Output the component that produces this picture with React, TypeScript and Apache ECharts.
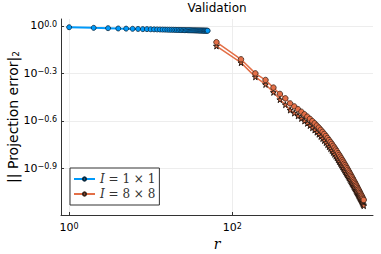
import React, { useEffect, useRef } from "react";
import * as echarts from "echarts";

// r values (ranks) of each series
const blueR = [
  1, 2, 3, 4, 5, 6, 7, 8, 9, 10, 11, 12, 13, 14, 15, 16, 17, 18, 19, 20, 21, 22, 23, 24, 25,
  26, 27, 28, 29, 30, 31, 32, 33, 34, 35, 36, 37, 38, 39, 40, 41, 42, 43, 44, 45, 46, 47, 48, 49, 50,
];
// log10 of the projection error, blue series (I = 1 x 1)
const blueLog10Err = [
  -0.008, -0.012, -0.014, -0.016, -0.017, -0.018, -0.019, -0.02, -0.02, -0.021, -0.0215, -0.022,
  -0.0225, -0.023, -0.0233, -0.0237, -0.024, -0.0243, -0.0246, -0.0249, -0.0252, -0.0254, -0.0257,
  -0.0259, -0.0262, -0.0264, -0.0266, -0.0268, -0.027, -0.0272, -0.0274, -0.0276, -0.0277, -0.0279,
  -0.0281, -0.0282, -0.0284, -0.0285, -0.0287, -0.0288, -0.029, -0.0291, -0.0292, -0.0294, -0.0295,
  -0.0296, -0.0297, -0.0299, -0.03, -0.0301,
];

const orangeR = [
  64, 128, 192, 256, 320, 384, 448, 512, 576, 640, 704, 768, 832, 896, 960, 1024, 1088, 1152, 1216,
  1280, 1344, 1408, 1472, 1536, 1600, 1664, 1728, 1792, 1856, 1920, 1984, 2048, 2112, 2176, 2240,
  2304, 2368, 2432, 2496, 2560, 2624, 2688, 2752, 2816, 2880, 2944, 3008, 3072, 3136, 3200, 3264,
  3328, 3392, 3456, 3520, 3584, 3648, 3712, 3776, 3840, 3904, 3968, 4032, 4096,
];
// log10 of the projection error, orange series with circles (I = 8 x 8)
const orangeCircleLog10Err = [
  -0.103, -0.211, -0.3, -0.342, -0.39, -0.43, -0.458, -0.49, -0.509, -0.527, -0.543, -0.559, -0.574,
  -0.588, -0.602, -0.616, -0.63, -0.643, -0.657, -0.67, -0.683, -0.696, -0.709, -0.722, -0.734,
  -0.746, -0.758, -0.77, -0.782, -0.793, -0.805, -0.816, -0.827, -0.838, -0.849, -0.859, -0.87,
  -0.88, -0.89, -0.9, -0.91, -0.92, -0.929, -0.939, -0.948, -0.957, -0.966, -0.975, -0.984, -0.992,
  -1.001, -1.009, -1.017, -1.026, -1.034, -1.041, -1.049, -1.057, -1.065, -1.072, -1.079, -1.087,
  -1.094, -1.101,
];
// log10 of the projection error, orange series with stars (unlabelled)
const orangeStarLog10Err = [
  -0.127, -0.232, -0.322, -0.37, -0.42, -0.466, -0.498, -0.532, -0.551, -0.569, -0.585, -0.601,
  -0.616, -0.63, -0.644, -0.658, -0.672, -0.685, -0.699, -0.712, -0.725, -0.738, -0.751, -0.764,
  -0.776, -0.788, -0.8, -0.812, -0.824, -0.835, -0.847, -0.858, -0.869, -0.88, -0.891, -0.901,
  -0.912, -0.922, -0.932, -0.942, -0.951, -0.961, -0.97, -0.979, -0.988, -0.997, -1.005, -1.014,
  -1.022, -1.03, -1.039, -1.047, -1.055, -1.063, -1.071, -1.078, -1.086, -1.093, -1.101, -1.108,
  -1.115, -1.123, -1.13, -1.137,
];

const xTickExps = [0, 2];
const xTickLabels = ["0", "2"];
const yTickExps = [0, -0.3, -0.6, -0.9];
const yTickLabels = ["0.0", "−0.3", "−0.6", "−0.9"];

const seriesNames = ["I = 1 × 1", "I = 8 × 8"];

const BLUE = "#009AFA";
const ORANGE = "#E36F47";
const STAR =
  "path://M50,0 L61,35 L98,35 L68,57 L79,91 L50,70 L21,91 L32,57 L2,35 L39,35 Z";

export default function App() {
  const ref = useRef<HTMLDivElement>(null);

  useEffect(() => {
    document.body.style.margin = "0";
    const chart = echarts.init(ref.current as HTMLDivElement, null, { renderer: "svg" });
    const pts = (rs: number[], es: number[]) => rs.map((r, i) => [Math.log10(r), es[i]]);
    const lab = (vals: number[], texts: string[]) => (v: number) => {
      const i = vals.findIndex((t) => Math.abs(t - v) < 1e-6);
      return i < 0 ? "" : `10{sup|${texts[i]}}`;
    };
    const sans = "DejaVu Sans";
    const serif = "DejaVu Serif";
    const labelRich = {
      sup: { fontSize: 8, fontFamily: sans, color: "#000", verticalAlign: "top", lineHeight: 8, padding: [0, 0, 5, 0] },
    };

    chart.setOption({
      animation: false,
      backgroundColor: "#fff",
      graphic: [
        {
          type: "text",
          x: 217,
          y: 2,
          style: { text: "Validation", align: "center", verticalAlign: "top", fontSize: 12, fontFamily: sans, fill: "#000" },
        },
      ],
      grid: { left: 61, top: 19, right: 8, bottom: 39, outerBoundsMode: "none" },
      legend: {
        data: seriesNames,
        orient: "vertical",
        left: 70,
        top: 168,
        itemWidth: 21,
        itemHeight: 4,
        itemGap: 3,
        padding: [5, 4, 5, 3],
        borderColor: "#333",
        borderWidth: 1,
        backgroundColor: "#fff",
        formatter: (n: string) => `{i|I}{t|${n.slice(1)}}`,
        textStyle: {
          color: "#333",
          fontSize: 12,
          fontFamily: serif,
          rich: {
            i: { fontStyle: "italic", fontFamily: serif, fontSize: 12, color: "#333" },
            t: { fontFamily: serif, fontSize: 12, color: "#333" },
          },
        },
      },
      xAxis: {
        type: "value",
        min: -0.1,
        max: 3.726,
        name: "r",
        nameLocation: "middle",
        nameGap: 22,
        nameMoveOverlap: false,
        nameTextStyle: { fontStyle: "italic", fontFamily: serif, fontSize: 14, color: "#000" },
        axisLine: { show: true, onZero: false, lineStyle: { color: "#333", width: 1 } },
        axisTick: { show: true, inside: true, length: 3, customValues: xTickExps, lineStyle: { color: "#333" } },
        axisLabel: {
          customValues: xTickExps,
          formatter: lab(xTickExps, xTickLabels),
          fontSize: 11,
          fontFamily: sans,
          color: "#000",
          margin: 7,
          rich: labelRich,
        },
        splitLine: { show: false },
      },
      yAxis: {
        type: "value",
        min: -1.196,
        max: 0.044,
        name: "|| Projection error|{sub|2}",
        nameLocation: "middle",
        nameRotate: 90,
        nameGap: 41,
        nameMoveOverlap: false,
        nameTextStyle: {
          fontFamily: sans,
          fontSize: 14,
          color: "#000",
          rich: { sub: { fontSize: 9, fontFamily: sans, color: "#000", verticalAlign: "bottom", padding: [5, 0, 0, 0] } },
        },
        axisLine: { show: true, onZero: false, lineStyle: { color: "#333", width: 1 } },
        axisTick: { show: true, inside: true, length: 3, customValues: yTickExps, lineStyle: { color: "#333" } },
        axisLabel: {
          customValues: yTickExps,
          formatter: lab(yTickExps, yTickLabels),
          fontSize: 11,
          fontFamily: sans,
          color: "#000",
          margin: 4,
          rich: labelRich,
        },
        splitLine: { show: false },
      },
      series: [
        {
          name: "grid",
          type: "line",
          data: [],
          silent: true,
          z: 0,
          markLine: {
            silent: true,
            z: 0,
            symbol: ["none", "none"],
            label: { show: false },
            animation: false,
            lineStyle: { color: "#e9e9e9", width: 0.8, type: "solid" },
            data: [
              ...xTickExps.map((v) => ({ xAxis: v })),
              ...yTickExps.map((v) => ({ yAxis: v })),
            ],
          },
        },
        {
          name: seriesNames[1] + " ",
          type: "line",
          data: pts(orangeR, orangeStarLog10Err),
          symbol: STAR,
          symbolSize: 6,
          lineStyle: { color: ORANGE, width: 1.5 },
          itemStyle: { color: ORANGE, borderColor: "#2a1a12", borderWidth: 1 },
          emphasis: { disabled: true },
          z: 3,
        },
        {
          name: seriesNames[1],
          type: "line",
          data: pts(orangeR, orangeCircleLog10Err),
          symbol: "circle",
          symbolSize: 5.5,
          lineStyle: { color: ORANGE, width: 1.5 },
          itemStyle: { color: ORANGE, borderColor: "#3a2318", borderWidth: 0.8 },
          emphasis: { disabled: true },
          z: 4,
        },
        {
          name: seriesNames[0],
          type: "line",
          data: pts(blueR, blueLog10Err),
          symbol: "circle",
          symbolSize: 5,
          lineStyle: { color: BLUE, width: 2 },
          itemStyle: { color: BLUE, borderColor: "#0b2a40", borderWidth: 0.8 },
          emphasis: { disabled: true },
          z: 5,
        },
      ],
    });
    return () => chart.dispose();
  }, []);

  return <div ref={ref} style={{ width: 381, height: 254 }} />;
}
